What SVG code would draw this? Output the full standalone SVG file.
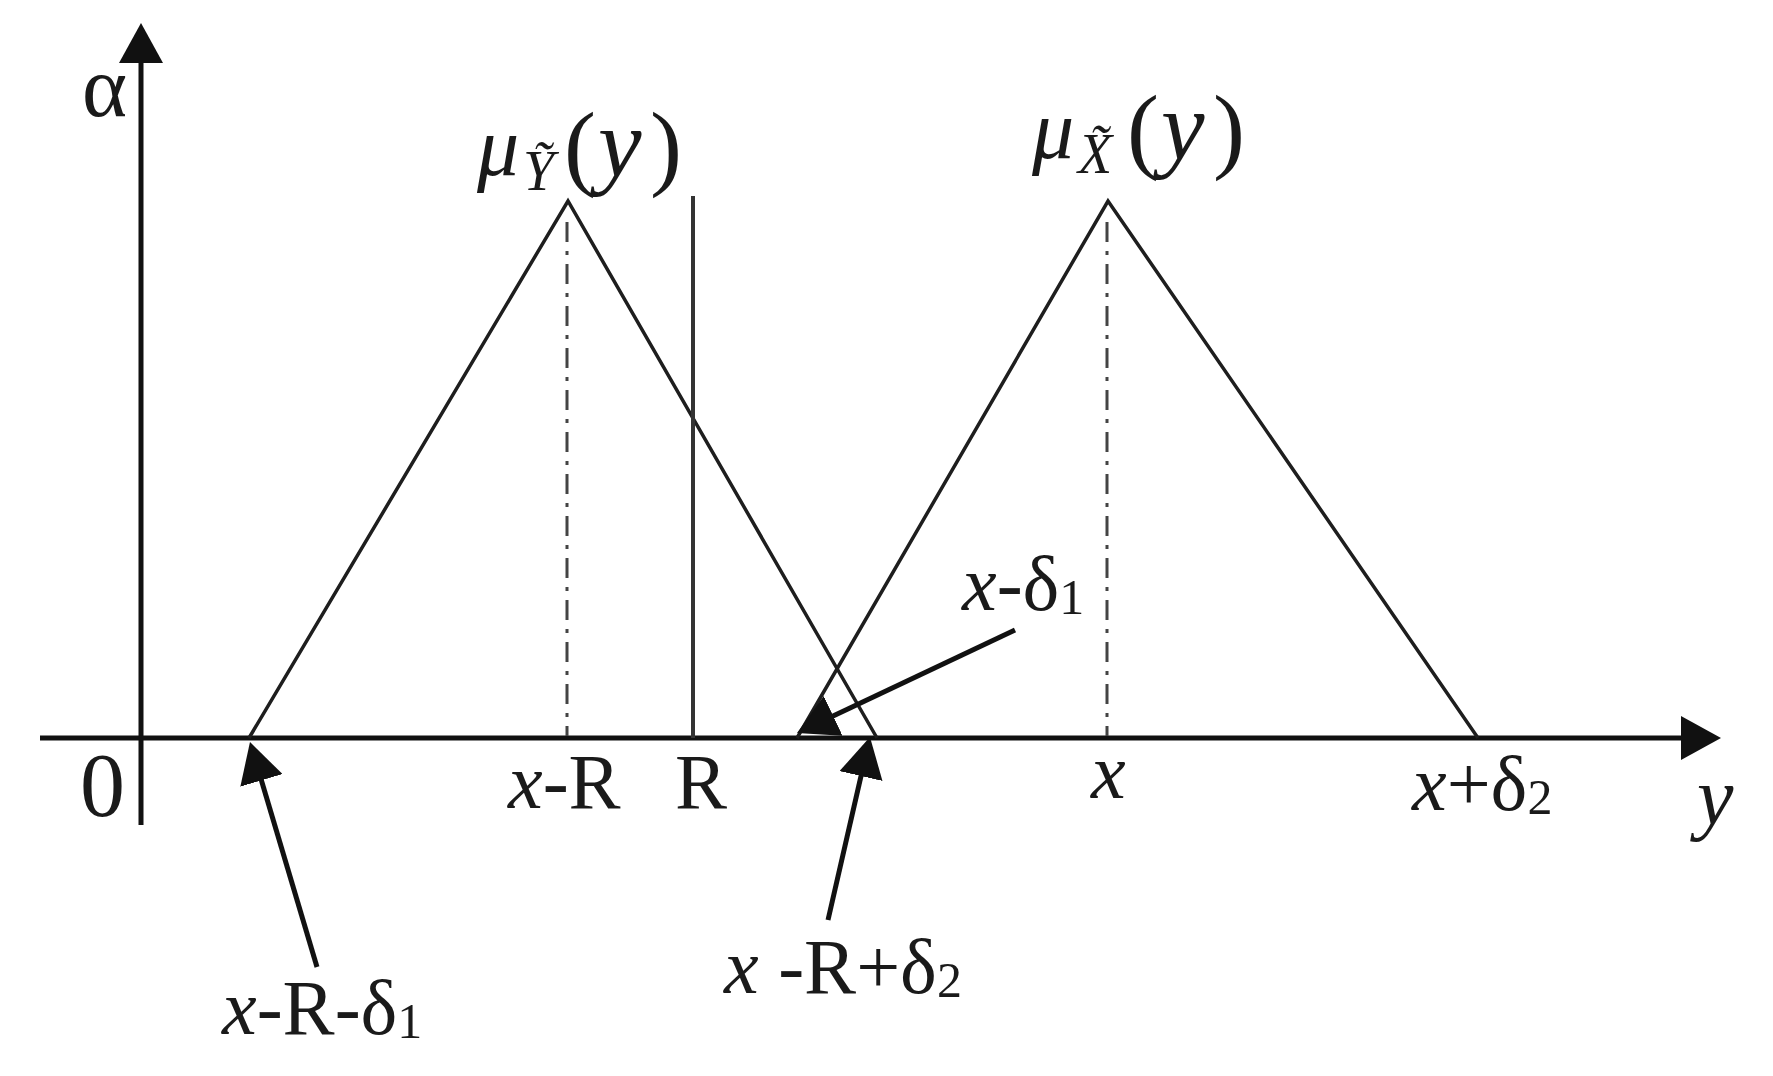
<svg xmlns="http://www.w3.org/2000/svg" width="1773" height="1076" viewBox="0 0 1773 1076">
<style>
.t{font-family:"Liberation Serif","Times New Roman",serif;fill:#1a1a1a}
.i{font-style:italic}
.lbl{font-size:78px}
.sub{font-size:50px}
.axis{stroke:#111;stroke-width:5;fill:none}
.tri{stroke:#1e1e1e;stroke-width:3.5;fill:none;stroke-linejoin:miter}
.dd{stroke:#444;stroke-width:3;fill:none;stroke-dasharray:20 9 4 9}
.ptr{stroke:#111;stroke-width:5;fill:none}
</style>
<defs>
<marker id="ah" viewBox="0 0 40 44" refX="20" refY="22" markerWidth="40" markerHeight="44" markerUnits="userSpaceOnUse" orient="auto">
<path d="M0,0 L40,22 L0,44 z" fill="#111"/>
</marker>
</defs>
<rect width="1773" height="1076" fill="#fff"/>
<g id="axes">
<line class="axis" x1="141" y1="825" x2="141" y2="43" marker-end="url(#ah)"/>
<line class="axis" x1="40" y1="738" x2="1701" y2="738" marker-end="url(#ah)"/>
<text class="t" x="82" y="116" font-size="86">α</text>
<text class="t" x="80" y="816" font-size="90">0</text>
<text class="t i" x="1697" y="824" font-size="82">y</text>
</g>
<g id="tri-left">
<polyline class="tri" points="249,738 568,201 877,738"/>
<line class="dd" x1="567" y1="222" x2="567" y2="736"/>
<text class="t"><tspan class="i" x="477" y="175" font-size="84">μ</tspan><tspan class="i" x="523" y="190" font-size="56" fill="#1a1a1a">Ỹ</tspan><tspan x="564" y="178" font-size="96">(</tspan><tspan class="i" x="598" y="176" font-size="98">y</tspan><tspan x="650" y="178" font-size="96">)</tspan></text>
</g>
<g id="r-line">
<line x1="693" y1="196" x2="693" y2="738" stroke="#333" stroke-width="4"/>
<text class="t lbl" x="675" y="808">R</text>
</g>
<g id="tri-right">
<polyline class="tri" points="797,738 1108,201 1478,738"/>
<line class="dd" x1="1107" y1="222" x2="1107" y2="736"/>
<text class="t"><tspan class="i" x="1032" y="158" font-size="84">μ</tspan><tspan class="i" x="1078" y="173" font-size="56">X̃</tspan><tspan x="1127" y="161" font-size="96">(</tspan><tspan class="i" x="1161" y="159" font-size="98">y</tspan><tspan x="1213" y="161" font-size="96">)</tspan></text>
</g>
<g id="labels">
<text class="t lbl" x="508" y="808"><tspan class="i">x</tspan>-R</text>
<text class="t lbl i" x="1091" y="798">x</text>
<text class="t lbl" x="1412" y="810"><tspan class="i">x</tspan>+δ<tspan class="sub" dy="4">2</tspan></text>
<text class="t lbl" x="962" y="610"><tspan class="i">x</tspan>-δ<tspan class="sub" dy="4">1</tspan></text>
<text class="t lbl" x="222" y="1034"><tspan class="i">x</tspan>-R-δ<tspan class="sub" dy="4">1</tspan></text>
<text class="t lbl" x="724" y="993"><tspan class="i">x</tspan> -R+δ<tspan class="sub" dy="4">2</tspan></text>
</g>
<g id="connectors">
<line class="ptr" x1="317" y1="967" x2="255.7" y2="761.2" marker-end="url(#ah)"/>
<line class="ptr" x1="828" y1="920" x2="865.5" y2="756.5" marker-end="url(#ah)"/>
<line class="ptr" x1="1015" y1="630" x2="815.1" y2="724.5" marker-end="url(#ah)"/>
</g>
</svg>
